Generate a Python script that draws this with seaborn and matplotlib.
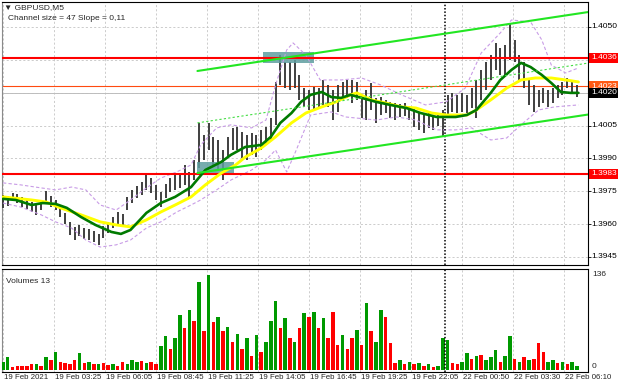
import numpy as np
import matplotlib
matplotlib.use("Agg")
import matplotlib.pyplot as plt
import matplotlib.transforms as mtrans
from matplotlib.patches import Rectangle
import seaborn as sns
import pandas as pd

# ---------------- data (GBPUSD M5, one entry per 3 M5 bars) ----------------
bar_step = 3
highs = [1.39733,1.39728,1.39742,1.39737,1.39724,1.39715,1.39701,1.39692,1.39710,1.39751,
         1.39728,1.39710,1.39687,1.39651,1.39610,1.39587,1.39596,1.39582,1.39578,1.39568,
         1.39555,1.39591,1.39610,1.39632,1.39655,1.39646,1.39724,1.39756,1.39774,1.39792,
         1.39833,1.39810,1.39779,1.39747,1.39783,1.39810,1.39824,1.39833,1.39870,1.39838,
         1.39893,1.40062,1.40007,1.40062,1.39998,1.39984,1.39938,1.39998,1.40039,1.40043,
         1.40021,1.40007,1.40016,1.40007,1.40030,1.40043,1.40084,1.40249,1.40372,1.40340,
         1.40340,1.40349,1.40281,1.40221,1.40212,1.40226,1.40221,1.40258,1.40235,1.40212,
         1.40235,1.40249,1.40258,1.40258,1.40249,1.40190,1.40212,1.40244,1.40176,1.40180,
         1.40167,1.40158,1.40153,1.40148,1.40153,1.40139,1.40130,1.40107,1.40098,1.40107,
         1.40098,1.40103,1.40121,1.40190,1.40199,1.40190,1.40199,1.40190,1.40221,1.40258,
         1.40304,1.40340,1.40372,1.40427,1.40404,1.40418,1.40518,1.40441,1.40372,1.40340,
         1.40258,1.40235,1.40212,1.40221,1.40212,1.40221,1.40235,1.40249,1.40267,1.40258,
         1.40235]
lows = [1.39674,1.39683,1.39705,1.39696,1.39678,1.39669,1.39655,1.39642,1.39664,1.39696,
        1.39678,1.39664,1.39632,1.39600,1.39550,1.39527,1.39546,1.39532,1.39527,1.39518,
        1.39505,1.39537,1.39559,1.39582,1.39600,1.39591,1.39664,1.39696,1.39719,1.39733,
        1.39756,1.39742,1.39710,1.39678,1.39719,1.39747,1.39756,1.39765,1.39779,1.39719,
        1.39801,1.39856,1.39893,1.39938,1.39870,1.39847,1.39801,1.39906,1.39938,1.39938,
        1.39902,1.39893,1.39916,1.39906,1.39938,1.39961,1.39984,1.40053,1.40235,1.40221,
        1.40212,1.40221,1.40167,1.40135,1.40121,1.40121,1.40130,1.40144,1.40135,1.40075,
        1.40112,1.40167,1.40176,1.40153,1.40167,1.40084,1.40075,1.40121,1.40062,1.40098,
        1.40107,1.40084,1.40075,1.40089,1.40094,1.40075,1.40043,1.40030,1.40016,1.40039,
        1.40030,1.40048,1.39998,1.40089,1.40112,1.40107,1.40112,1.40107,1.40130,1.40084,
        1.40167,1.40212,1.40258,1.40304,1.40281,1.40272,1.40349,1.40340,1.40258,1.40221,
        1.40144,1.40112,1.40135,1.40153,1.40135,1.40153,1.40176,1.40190,1.40221,1.40203,
        1.40180]
volumes = [12,19,4,6,6,5,9,8,6,18,
           14,26,12,10,9,14,24,10,12,8,
           9,10,7,9,6,11,8,14,12,13,
           10,12,8,34,48,30,45,79,60,86,
           70,126,55,136,68,76,55,62,40,52,
           30,45,20,50,25,40,70,99,60,74,
           45,40,60,81,75,83,60,74,45,83,
           35,50,30,45,57,35,95,55,40,86,
           76,38,10,14,8,12,9,10,6,8,
           4,6,45,43,10,8,12,24,15,20,
           22,14,18,29,12,20,48,15,12,18,
           14,16,38,25,12,14,10,12,8,12,
           6]
vol_up = [1,1,0,0,0,0,0,1,0,1,
          0,1,0,0,0,0,1,0,1,0,
          1,0,0,1,0,0,1,1,1,0,
          1,0,0,1,1,0,1,1,0,1,
          0,1,0,1,0,1,0,1,0,1,
          0,1,0,1,0,1,1,1,0,1,
          0,1,0,1,0,1,0,1,0,0,
          0,1,0,0,1,0,1,0,1,1,
          0,0,0,1,0,1,0,1,0,1,
          0,1,1,1,0,0,1,1,0,1,
          0,1,1,1,0,1,1,0,1,0,
          1,0,0,0,1,1,0,1,0,1,
          1]

green_ma_x = [0,8,18,25,33,40,49,58,68,74,80,90,99,108,118,127,137,143,152,162,168,174,181,187,193,200,
              206,212,218,225,234,243,253,262,272,278,284,291,297,306,312,319,325,331,338,344,350,356,361]
green_ma = [1.39715,1.39710,1.39687,1.39696,1.39692,1.39674,1.39632,1.39596,1.39564,1.39555,
            1.39573,1.39651,1.39696,1.39724,1.39769,1.39847,1.39884,1.39916,1.39952,1.39961,
            1.39998,1.40062,1.40107,1.40158,1.40190,1.40203,1.40180,1.40176,1.40190,1.40176,
            1.40158,1.40144,1.40130,1.40107,1.40089,1.40089,1.40089,1.40098,1.40121,1.40199,
            1.40258,1.40304,1.40336,1.40317,1.40281,1.40244,1.40203,1.40199,1.40199]
yellow_ma_x = [0,18,27,36,49,61,71,80,90,99,108,118,127,137,146,152,162,171,181,190,
               200,209,218,222,231,240,250,259,269,278,291,297,306,316,325,334,344,353,361]
yellow_ma = [1.39724,1.39710,1.39701,1.39674,1.39642,1.39610,1.39596,1.39587,1.39619,1.39655,
             1.39687,1.39724,1.39779,1.39833,1.39870,1.39906,1.39947,1.39998,1.40062,1.40107,
             1.40135,1.40158,1.40190,1.40199,1.40167,1.40153,1.40135,1.40130,1.40107,1.40098,
             1.40098,1.40121,1.40167,1.40221,1.40258,1.40267,1.40267,1.40258,1.40249]
upper_band_x = [0,11,24,33,43,52,61,71,80,90,99,109,118,124,134,143,156,165,171,178,
                182,190,199,212,225,237,250,265,278,290,300,312,319,331,338,344,353,361]
upper_band = [1.39788,1.39779,1.39765,1.39756,1.39769,1.39756,1.39687,1.39664,1.39710,1.39765,
              1.39810,1.39838,1.39870,1.39961,1.40039,1.40053,1.40039,1.40075,1.40235,1.40395,
              1.40427,1.40372,1.40258,1.40258,1.40267,1.40235,1.40190,1.40144,1.40158,1.40221,
              1.40381,1.40473,1.40532,1.40523,1.40441,1.40326,1.40290,1.40313]
lower_band_x = [0,11,24,33,43,52,61,71,80,90,99,109,118,124,134,143,156,165,171,178,
                184,193,206,215,234,247,259,272,284,294,306,316,325,336,346,361]
lower_band = [1.39696,1.39678,1.39642,1.39610,1.39582,1.39527,1.39495,1.39505,1.39527,1.39582,
              1.39610,1.39655,1.39687,1.39710,1.39756,1.39801,1.39847,1.39893,1.39938,1.39838,
              1.39938,1.40098,1.40112,1.40089,1.40075,1.40089,1.40075,1.40030,1.40030,1.40039,
              1.39984,1.39993,1.40053,1.40121,1.40135,1.40144]

channel_x = [122, 367]
channel_upper = [1.40299, 1.40568]
channel_mid = [1.40062, 1.40335]
channel_lower = [1.39833, 1.40100]

levels_red = [1.4036, 1.3983]
level_orange = 1.4023
level_bid = 1.4020
zone_boxes = [(163, 195, 1.40336, 1.40386), (122, 145, 1.39833, 1.39884)]

price_ticks = [1.4050, 1.4005, 1.3990, 1.3975, 1.3960, 1.3945]
grid_levels = [1.3945, 1.3960, 1.3975, 1.3990, 1.4005, 1.4020, 1.4035, 1.4050]
time_ticks = [0, 32, 64, 96, 128, 160, 192, 224, 256, 288, 320, 352]
time_labels = ["19 Feb 2021", "19 Feb 03:25", "19 Feb 06:05", "19 Feb 08:45", "19 Feb 11:25",
               "19 Feb 14:05", "19 Feb 16:45", "19 Feb 19:25", "19 Feb 22:05", "22 Feb 00:50",
               "22 Feb 03:30", "22 Feb 06:10"]
session_break = 277.5

# ---------------- style ----------------
sns.set_style("white")
plt.rcParams['font.family'] = ['Liberation Sans', 'DejaVu Sans']
FS = 6.0
FS_T = 5.7

W, H = 620, 388
fig = plt.figure(figsize=(W / 100, H / 100), dpi=100)
fig.patch.set_facecolor("white")
fx = lambda px: px / W
fy = lambda py: 1 - py / H
ax = fig.add_axes([fx(2), fy(265), fx(588) - fx(2), fy(2) - fy(265)])
axv = fig.add_axes([fx(2), fy(372), fx(588) - fx(2), fy(269) - fy(372)])

XMIN, XMAX = -0.6, 367.0
for a in (ax, axv):
    a.set_xlim(XMIN, XMAX)
    a.set_facecolor("white")
    for s in a.spines.values():
        s.set_color("black")
        s.set_linewidth(0.8)
    a.spines['left'].set_color('#8a8a8a')
    a.set_xticks([])
    for t in time_ticks:
        a.axvline(t, color='#c4c4c4', lw=0.6, ls=(0, (2.5, 2.5)), zorder=0)
    a.axvline(session_break, color='black', lw=1.1, ls=(0, (1, 1.2)), zorder=6)

ax.set_ylim(1.39413, 1.40614)
for g in grid_levels:
    ax.axhline(g, color='#c4c4c4', lw=0.6, ls=(0, (2.5, 2.5)), zorder=0)
ax.set_yticks(grid_levels)
ax.set_yticklabels([])
ax.yaxis.tick_right()
ax.tick_params(axis='y', length=2, width=0.6, color='black', right=True, left=False)

# price bars
bx = np.arange(len(highs)) * bar_step
ax.vlines(bx, lows, highs, color='#383838', lw=1.35, zorder=3)

# zone boxes
for x0, x1, p0, p1 in zone_boxes:
    ax.add_patch(Rectangle((x0, p0), x1 - x0, p1 - p0, facecolor='#5f9ea0', alpha=0.85,
                           edgecolor='none', zorder=4))

# level lines
ax.axhline(level_bid, color='#bdbdbd', lw=0.7, zorder=2)
ax.axhline(level_orange, color='#ff4a10', lw=0.8, zorder=2)
for lv in levels_red:
    ax.axhline(lv, color='#ff0000', lw=1.5, zorder=5)

# bands
bands = pd.DataFrame({'x': upper_band_x, 'y': upper_band})
sns.lineplot(data=bands, x='x', y='y', ax=ax, color='#c89ce6', lw=0.8,
             linestyle=(0, (3, 2)), estimator=None, sort=False, zorder=4)
bands_l = pd.DataFrame({'x': lower_band_x, 'y': lower_band})
sns.lineplot(data=bands_l, x='x', y='y', ax=ax, color='#c89ce6', lw=0.8,
             linestyle=(0, (3, 2)), estimator=None, sort=False, zorder=4)

# moving averages
sns.lineplot(x=yellow_ma_x, y=yellow_ma, ax=ax, color='#ffff00', lw=2.1,
             estimator=None, sort=False, zorder=6)
sns.lineplot(x=green_ma_x, y=green_ma, ax=ax, color='#007a00', lw=1.9,
             estimator=None, sort=False, zorder=7)

# channel
sns.lineplot(x=channel_x, y=channel_upper, ax=ax, color='#22e622', lw=1.5,
             estimator=None, zorder=8)
sns.lineplot(x=channel_x, y=channel_lower, ax=ax, color='#22e622', lw=1.5,
             estimator=None, zorder=8)
sns.lineplot(x=channel_x, y=channel_mid, ax=ax, color='#44dd44', lw=0.8,
             linestyle=(0, (2, 2)), estimator=None, zorder=8)
ax.set_xlabel("")
ax.set_ylabel("")

# right side price labels
tr = mtrans.blended_transform_factory(ax.transAxes, ax.transData)
for p in price_ticks:
    ax.text(1.005, p, f"{p:.4f}", transform=tr, ha='left', va='center', fontsize=FS,
            color='black', clip_on=False)
boxes = [(1.4036, '#ff0000', 'white'), (1.4023, '#ff5a14', 'white'),
         (1.4020, '#000000', 'white'), (1.3983, '#ff0000', 'white')]
for p, fc, tc in boxes:
    ax.text(1.005, p, f"{p:.4f}", transform=tr, ha='left', va='center', fontsize=FS,
            color=tc, clip_on=False, zorder=10,
            bbox=dict(boxstyle='square,pad=0.18', fc=fc, ec='none'))

# volume panel
vcol = ['#009900' if u else '#ff0000' for u in vol_up]
axv.bar(bx, volumes, width=2.2, color=vcol, linewidth=0, zorder=3)
axv.set_ylim(-2.9, 144.3)
axv.set_yticks([])
trv = mtrans.blended_transform_factory(axv.transAxes, axv.transData)
axv.text(1.007, 136, "136", transform=trv, ha='left', va='center', fontsize=FS, clip_on=False)
axv.text(1.007, 5, "0", transform=trv, ha='left', va='center', fontsize=FS, clip_on=False)
axv.text(0.007, 0.88, "Volumes 13", transform=axv.transAxes, ha='left', va='center', fontsize=FS)

trt = mtrans.blended_transform_factory(axv.transData, axv.transAxes)
for t, lab in zip(time_ticks, time_labels):
    axv.text(t + 0.4, -0.058, lab, transform=trt, ha='left', va='center', fontsize=FS_T,
             clip_on=False)

# header texts
fig.text(fx(4), fy(8), "\u25BC GBPUSD,M5", fontsize=FS, va='center', ha='left')
fig.text(fx(8), fy(19), "Channel size = 47 Slope = 0,11", fontsize=FS, va='center', ha='left')

fig.savefig("out.png", dpi=100, facecolor="white")
